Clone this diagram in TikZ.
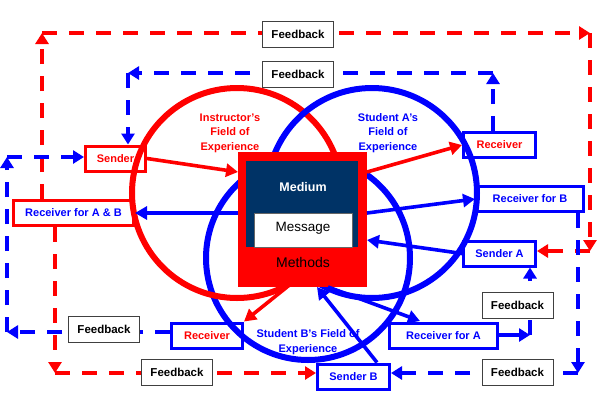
\documentclass[tikz,border=0pt]{standalone}
\usepackage{fontspec}
\setmainfont{Liberation Sans}
\usetikzlibrary{arrows.meta}
\definecolor{navy}{RGB}{0,51,102}
\definecolor{rd}{RGB}{255,0,0}
\definecolor{bl}{RGB}{0,0,255}
\begin{document}
\begin{tikzpicture}[x=1pt,y=-1pt,
  lbl/.style={draw, line width=3pt, minimum width=#1, minimum height=25pt, inner sep=0pt, font=\bfseries\fontsize{11}{12}\selectfont},
  fb/.style={draw=black!75, fill=white, line width=0.9pt, minimum width=71pt, minimum height=26pt, inner sep=0pt, font=\bfseries\fontsize{11.5}{13}\selectfont},
  sol/.style={line width=3.6pt, -{Triangle[length=12pt,width=13pt]}},
  dsh/.style={line width=4pt, dash pattern=on 15pt off 12pt, -{Triangle[length=11pt,width=13pt]}},
  ring/.style={line width=6pt},
  fld/.style={align=center, font=\bfseries\fontsize{11}{14.5}\selectfont}
]
\useasboundingbox (0,0) rectangle (598,400);

% fields of experience
\draw[ring, bl] (308,258) circle[radius=102];
\draw[ring, rd] (237,193) circle[radius=105];
\draw[ring, bl] (372,193) circle[radius=105];

% central box
\fill[rd] (238,152) rectangle (367,287);
\fill[navy] (246,161) rectangle (358,247);
\draw[black!60, line width=0.8pt, fill=white] (254,213) rectangle (352,247);
\node[text=white, font=\bfseries\fontsize{12.5}{14}\selectfont] (medium) at (303,187) {Medium};
\node[font=\fontsize{13.5}{15}\selectfont] (message) at (303,228) {Message};
\node[font=\fontsize{14}{16}\selectfont] (methods) at (303,262) {Methods};
\coordinate (bxw) at (238,213);
\coordinate (bxsl) at (238,172);
\coordinate (bxne) at (367,172);
\coordinate (bxe) at (367,213);
\coordinate (bxse) at (367,240);
\coordinate (bxb1) at (287,287);
\coordinate (bxb2) at (317,287);
\coordinate (bxb3) at (328,287);

% field labels
\node[fld, text=rd] (fi) at (230,133) {Instructor's\\Field of\\Experience};
\node[fld, text=bl] (fa) at (388,133) {Student A's\\Field of\\Experience};
\node[fld, text=bl] (fbb) at (308,342) {Student B's Field of\\Experience};

% label boxes
\node[lbl=60pt, draw=rd, text=rd] (sender) at (115.5,158.5) {Sender};
\node[lbl=120pt, draw=rd, text=bl] (rab) at (73.5,213) {Receiver for A \& B};
\node[lbl=72pt, draw=bl, text=rd] (recA) at (499.5,145) {Receiver};
\node[lbl=107pt, draw=bl, text=bl] (recB) at (530,199) {Receiver for B};
\node[lbl=72pt, draw=bl, text=bl] (sendA) at (499.5,253.5) {Sender A};
\node[lbl=108pt, draw=bl, text=bl] (recforA) at (443.5,335.5) {Receiver for A};
\node[lbl=72pt, draw=bl, text=bl] (sendB) at (353.5,376.5) {Sender B};
\node[lbl=71pt, draw=bl, text=rd] (recbot) at (207,335.5) {Receiver};

% solid arrows
\draw[sol, rd] (sender.east) -- (bxsl);
\draw[sol, rd] (bxne) -- (recA.west);
\draw[sol, bl] (bxw) -- (rab.east);
\draw[sol, bl] (bxe) -- (recB.west);
\draw[sol, bl] (sendA.west) -- (bxse);
\draw[sol, bl] (bxb3) -- (420,321);
\draw[sol, bl] (377,362.5) -- (bxb2);
\draw[sol, rd] (bxb1) -- (recbot.north east);

% dashed corner points
\coordinate (r1) at (42,33);
\coordinate (r2) at (590,33);
\coordinate (r3) at (590,251);
\coordinate (b1) at (493,73);
\coordinate (b2) at (128,73);
\coordinate (l1) at (7,332);
\coordinate (l2) at (7,157);
\coordinate (d1) at (55,373);
\coordinate (e1) at (578,373);
\coordinate (f1) at (530,335);

% dashed loops
\draw[dsh, rd] (rab.north -| r1) -- (r1);
\draw[dsh, rd] (r1) -- (r2);
\draw[dsh, rd] (r2) -- (r3);
\draw[dsh, rd] (r3) -- (sendA.east |- r3);
\draw[dsh, bl] (recA.north -| b1) -- (b1);
\draw[dsh, bl] (b1) -- (b2);
\draw[dsh, bl] (b2) -- (sender.north -| b2);
\draw[dsh, bl] (recbot.west |- l1) -- (l1);
\draw[dsh, bl] (l1) -- (l2);
\draw[dsh, bl] (l2) -- (sender.west |- l2);
\draw[dsh, rd] (rab.south -| d1) -- (d1);
\draw[dsh, rd] (d1) -- (sendB.west |- d1);
\draw[dsh, bl] (recB.south -| e1) -- (e1);
\draw[dsh, bl] (e1) -- (sendB.east |- e1);
\draw[line width=4pt, bl, -{Triangle[length=11pt,width=13pt]}] (recforA.east |- f1) -- (f1);
\draw[dsh, bl] (f1) -- (sendA.south -| f1);

% feedback boxes
\node[fb] (fb1) at (298,34) {Feedback};
\node[fb] (fb2) at (298,74) {Feedback};
\node[fb] (fb3) at (517.5,305.5) {Feedback};
\node[fb] (fb4) at (517.5,372.5) {Feedback};
\node[fb] (fb5) at (104,329.5) {Feedback};
\node[fb] (fb6) at (177,372.5) {Feedback};
\end{tikzpicture}
\end{document}
